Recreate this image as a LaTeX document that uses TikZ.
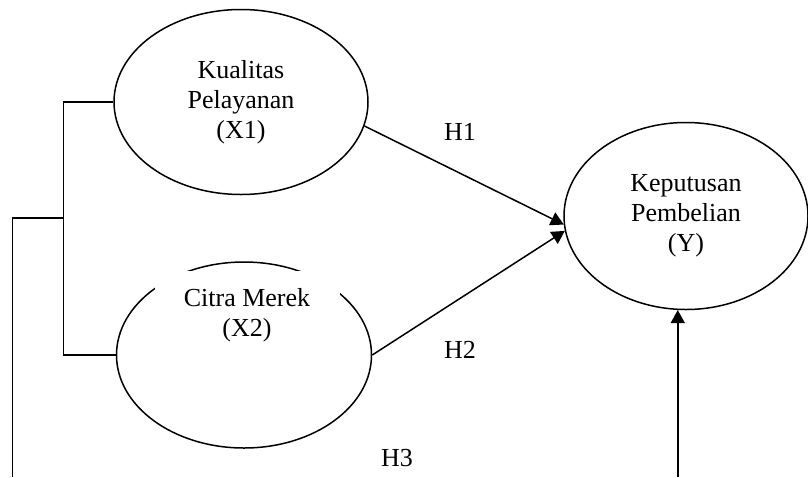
\documentclass[tikz,border=0pt]{standalone}
\usepackage{fontspec}
\setmainfont{Liberation Serif}
\usetikzlibrary{arrows.meta,positioning,shapes.geometric}

\begin{document}
\begin{tikzpicture}[x=0.5pt,y=-0.5pt,
  var/.style={draw,ellipse,line width=0.75pt,inner sep=0pt,
    font=\fontsize{13}{15}\selectfont,align=center},
  lbl/.style={font=\fontsize{13}{15}\selectfont,align=center},
  link/.style={line width=0.75pt},
  hyp/.style={line width=0.75pt,-{Triangle[length=6.5pt,width=7pt]}}]
  \useasboundingbox (0,0) rectangle (808,477);
  % variables
  \node[var,minimum width=127pt,minimum height=92.5pt] (X1) at (241,102) {Kualitas\\Pelayanan\\(X1)};
  \node[var,minimum width=127.5pt,minimum height=93pt] (X2) at (244,355) {};
  \node[lbl,fill=white,minimum width=92.5pt,minimum height=44pt] (tX2) at (247,315) {Citra Merek\\(X2)};
  \node[var,minimum width=122pt,minimum height=93.5pt] (Y) at (686,216) {Keputusan\\Pembelian\\(Y)};
  % bracket on the left
  \draw[link] (X1.west) -- ++(-50,0) coordinate (bt) -- (bt |- X2.west) -- (X2.west);
  \coordinate (hub) at (bt |- 0,218);
  \draw[link] (hub) -- ++(-51,0) coordinate (hubl) -- (hubl |- 0,477);
  % hypotheses
  \draw[hyp] (X1.-11) -- (Y.184);
  \draw[hyp] (X2.east) -- (Y.187);
  \coordinate (foot) at (Y.-95 |- 0,477);
  \draw[hyp] (foot) -- (Y.-95);
  \node[lbl] (h1) at (460,132) {H1};
  \node[lbl] (h2) at (460,350) {H2};
  \node[lbl] (h3) at (397,458) {H3};
\end{tikzpicture}
\end{document}
